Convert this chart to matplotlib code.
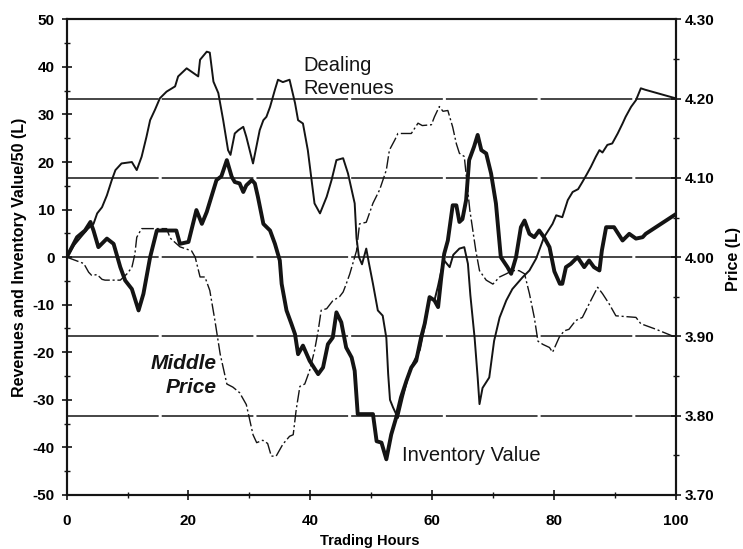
import matplotlib
matplotlib.use("Agg")
import matplotlib.pyplot as plt
from matplotlib.ticker import MultipleLocator, FormatStrFormatter

plt.rcParams['font.family'] = ['Liberation Sans', 'DejaVu Sans']

# Dealing revenues (left axis, thin solid line)
rev_hours = [0, 1.2, 2.5, 3.5, 4.4, 5.0, 5.8, 6.6, 7.4, 8.0, 9.0, 10.7, 11.5, 12.3, 13.1,
             13.7, 14.5, 15.3, 16.4, 17.8, 18.3, 19.7, 21.6, 21.9, 23.0, 23.5, 24.1, 24.9,
             25.7, 26.5, 26.9, 27.6, 28.2, 29.0, 29.5, 30.6, 31.7, 32.3, 32.8, 33.4, 34.2,
             34.7, 35.5, 36.6, 37.5, 38.0, 38.8, 39.6, 40.7, 41.6, 42.7, 43.5, 44.3, 45.4,
             46.2, 47.3, 47.6, 48.0, 48.5, 49.2, 49.6, 50.3, 51.1, 51.9, 52.5, 52.8, 53.1,
             53.6, 54.4, 55.2, 56.3, 57.0, 58.0, 58.8, 59.6, 60.4, 61.0, 61.5, 62.0, 62.9,
             63.5, 64.5, 65.3, 65.9, 66.3, 67.0, 67.5, 67.8, 68.3, 69.4, 70.2, 71.1, 72.2,
             73.2, 74.9, 76.0, 77.1, 78.4, 79.8, 80.4, 81.4, 82.3, 83.1, 84.0, 84.7, 85.5,
             86.1, 86.9, 87.5, 88.0, 88.8, 89.6, 90.5, 91.3, 91.8, 92.7, 93.5, 94.3, 95.0,
             100]
rev_values = [0, 2.5, 4.5, 6, 7, 9.2, 10.5, 13, 16.2, 18.3, 19.7, 20, 18.3, 21.1, 25.3,
              28.8, 31, 33.4, 34.8, 35.9, 38, 39.7, 38, 41.5, 43.2, 43, 36.9, 34.5,
              28.8, 22.5, 21.5, 26, 26.7, 27.4, 25.3, 19.7, 26.7, 28.8, 29.5, 31.6, 35.2,
              37.3, 36.8, 37.3, 32.4, 28.8, 28.1, 22.5, 11.3, 9.2, 12.7, 16.2, 20.4, 20.8,
              17.6, 11.3, 4, 0, -1.5, 1.8, -1, -5.6, -11.2, -12.3, -17, -24.6, -30,
              -31.6, -33.8, -29.5, -24, -22, -19.5, -14.5, -8.4, -9.1, -6, -3, -0.7, -2.1,
              0.5, 1.8, 2.1, -1.4, -8, -17, -25.3, -30.9, -27.5, -25.3, -17.6, -12.7, -9.1,
              -6.7, -4.2, -2.8, -0.3, 4.2, 7, 8.8, 8.4, 12, 13.7, 14.3, 15.8, 17.6,
              19, 21.1, 22.5, 22, 23.6, 23.9, 26, 28.1, 29.5, 31.6, 33, 35.5, 35.2,
              33.4]

# Inventory value / 50 (left axis, thick solid line)
inv_hours = [0, 1.7, 3.0, 3.9, 4.4, 5.2, 6.6, 7.7, 8.8, 9.6, 10.7, 11.8, 12.6, 13.1, 13.7,
             14.8, 18.0, 18.6, 20.0, 21.3, 22.2, 23.0, 24.6, 25.4, 26.3, 27.1, 27.6, 28.4,
             29.0, 29.5, 30.4, 30.9, 31.4, 32.3, 33.4, 34.2, 35.0, 35.3, 36.1, 36.9, 37.5,
             38.0, 38.8, 39.9, 41.3, 42.1, 42.9, 43.7, 44.3, 45.1, 45.9, 46.8, 47.3, 47.8,
             50.3, 50.9, 51.7, 52.5, 53.3, 54.1, 54.9, 55.8, 56.6, 57.4, 58.2, 58.8, 59.6,
             60.4, 61.0, 61.5, 62.0, 62.6, 63.4, 64.0, 64.5, 65.0, 65.6, 66.1, 66.9, 67.5,
             68.1, 68.9, 69.7, 70.5, 71.3, 72.4, 73.0, 73.8, 74.6, 75.2, 76.0, 76.8, 77.6,
             78.4, 79.3, 80.1, 81.0, 81.4, 82.0, 82.8, 83.9, 85.0, 85.8, 86.6, 87.5, 87.9,
             88.6, 89.9, 91.3, 92.4, 93.5, 94.6, 95.1, 100]
inv_values = [0, 4.2, 5.6, 7.4, 5.6, 2.1, 3.9, 2.8, -2.1, -4.9, -6.7, -11.2, -7.7, -4.2, 0,
              5.6, 5.6, 2.8, 3.2, 9.9, 7, 9.5, 16.2, 17, 20.4, 16.9, 15.8, 15.5,
              13.7, 15.1, 16.2, 15.5, 12.7, 7, 5.6, 2.8, -0.7, -5.6, -11.2, -14, -16.2,
              -20.4, -18.6, -21.8, -24.6, -23.2, -18.3, -16.9, -11.6, -13.7, -19, -21.1, -23.9, -33,
              -33, -38.7, -39, -42.5, -37.3, -33.8, -29.5, -26, -23.2, -21.8, -16.9, -14, -8.4,
              -9.1, -10.5, -4.5, 0.7, 3.5, 10.9, 10.9, 7.4, 8, 12, 20.4, 23.2, 25.7,
              22.5, 21.8, 17.6, 11.3, 0, -2.1, -3.5, 0, 6.3, 7.7, 4.9, 4.2, 5.6,
              4.2, 2.1, -3, -5.6, -5.6, -2.1, -1.4, 0, -2.1, -0.7, -2.1, -2.8, 1.4,
              6.3, 6.3, 3.5, 4.9, 3.9, 4.2, 4.9, 9.0]

# Middle price (right axis, dash-dot line)
price_hours = [0, 1.4, 2.8, 3.6, 4.1, 5.0, 5.8, 6.3, 8.8, 9.9, 10.7, 11.2, 11.5, 12.3,
               16.4, 17.0, 18.6, 20.5, 21.1, 21.9, 22.7, 23.5, 24.3, 25.2, 26.3, 27.3,
               28.4, 29.5, 30.6, 31.2, 32.2, 33.0, 33.6, 34.4, 35.5, 36.6, 37.2, 37.7,
               38.3, 39.1, 39.9, 40.7, 41.3, 41.8, 42.7, 43.7, 44.8, 45.4, 45.9, 46.5,
               47.6, 48.1, 49.2, 50.3, 51.4, 52.5, 53.0, 53.9, 54.4, 56.6, 57.7, 58.4,
               59.9, 60.4, 61.2, 61.8, 62.6, 63.4, 64.0, 64.5, 65.3, 66.2, 67.2, 67.8,
               68.9, 70.0, 71.1, 72.2, 73.2, 74.3, 75.2, 76.0, 76.8, 77.4, 78.2, 79.3,
               79.8, 80.9, 81.7, 82.5, 83.6, 84.7, 85.8, 87.2, 88.0, 89.1, 90.2, 93.5,
               94.3, 96.8, 100]
price_values = [4.000, 3.996, 3.992, 3.981, 3.977, 3.978, 3.972, 3.971, 3.971, 3.979, 3.987,
                4.004, 4.025, 4.036, 4.036, 4.024, 4.013, 4.008, 4.000, 3.975, 3.975, 3.958,
                3.922, 3.878, 3.840, 3.836, 3.829, 3.814, 3.776, 3.766, 3.769, 3.765, 3.749,
                3.749, 3.764, 3.774, 3.776, 3.808, 3.837, 3.840, 3.857, 3.882, 3.907, 3.933,
                3.935, 3.945, 3.950, 3.956, 3.966, 3.979, 4.008, 4.042, 4.044, 4.068, 4.085,
                4.110, 4.135, 4.148, 4.156, 4.156, 4.169, 4.166, 4.167, 4.177, 4.190, 4.184,
                4.185, 4.164, 4.143, 4.131, 4.127, 4.060, 4.008, 3.983, 3.971, 3.966, 3.975,
                3.979, 3.983, 3.983, 3.979, 3.954, 3.924, 3.894, 3.890, 3.886, 3.880, 3.899,
                3.907, 3.909, 3.920, 3.924, 3.941, 3.962, 3.954, 3.941, 3.926, 3.924, 3.916,
                3.909, 3.899]

price_gridlines = [3.80, 3.90, 4.00, 4.10, 4.20]

ink = '#141414'

fig = plt.figure(figsize=(7.43, 5.49), dpi=100)
ax = fig.add_axes([0.0898, 0.0984, 0.8194, 0.8664])
ax2 = ax.twinx()

ax.set_xlim(0, 100)
ax.set_ylim(-50, 50)
ax2.set_ylim(3.70, 4.30)

for g in price_gridlines:
    ax2.axhline(g, color=ink, lw=1.1, ls=(0, (60, 2)), zorder=1)

ax.plot(rev_hours, rev_values, color=ink, lw=1.4, zorder=3)
ax.plot(inv_hours, inv_values, color=ink, lw=2.8, zorder=4)
ax2.plot(price_hours, price_values, color=ink, lw=1.0, ls=(0, (9, 2, 1.5, 2)), zorder=3)

ax.xaxis.set_major_locator(MultipleLocator(20))
ax.xaxis.set_minor_locator(MultipleLocator(10))
ax.yaxis.set_major_locator(MultipleLocator(10))
ax.yaxis.set_minor_locator(MultipleLocator(5))
ax.yaxis.set_major_formatter(FormatStrFormatter('%d'))
ax2.yaxis.set_major_locator(MultipleLocator(0.1))
ax2.yaxis.set_minor_locator(MultipleLocator(0.05))
ax2.yaxis.set_major_formatter(FormatStrFormatter('%.2f'))

for a in (ax, ax2):
    for s in a.spines.values():
        s.set_linewidth(1.5)
        s.set_color(ink)

ax.tick_params(axis='both', which='major', direction='inout', length=7, width=1.2, color=ink,
               labelsize=11)
ax.tick_params(axis='both', which='minor', direction='inout', length=4, width=1.0, color=ink)
ax.tick_params(axis='y', which='major', pad=5)
ax.tick_params(axis='x', which='major', pad=10)
ax2.tick_params(axis='y', which='major', direction='inout', length=7, width=1.2, color=ink,
                labelsize=11, pad=3)
ax2.tick_params(axis='y', which='minor', direction='inout', length=4, width=1.0, color=ink)

for lab in ax.get_xticklabels() + ax.get_yticklabels() + ax2.get_yticklabels():
    lab.set_fontweight('bold')

ax.set_xlabel('Trading Hours', fontsize=10.5, fontweight='bold', va='center')
ax.xaxis.set_label_coords(0.497, -0.096)
ax.set_ylabel('Revenues and Inventory Value/50 (L)', fontsize=11.5, fontweight='bold',
              va='center', ha='center')
ax.yaxis.set_label_coords(-0.078, 0.5)
ax2.set_ylabel('Price (L)', fontsize=11.5, fontweight='bold', rotation=90,
               va='center', ha='center')
ax2.yaxis.set_label_coords(1.095, 0.497)

ax.text(38.8, 40.2, 'Dealing', fontsize=14.5, ha='left', va='center', color=ink, zorder=5)
ax.text(38.8, 35.5, 'Revenues', fontsize=14.5, ha='left', va='center', color=ink, zorder=5)
ax.text(55.0, -41.8, 'Inventory Value', fontsize=14.5, ha='left', va='center', color=ink, zorder=5)
ax.text(24.6, -22.4, 'Middle', fontsize=15, fontweight='bold', fontstyle='italic',
        ha='right', va='center', color=ink, zorder=5)
ax.text(24.6, -27.5, 'Price', fontsize=15, fontweight='bold', fontstyle='italic',
        ha='right', va='center', color=ink, zorder=5)

fig.savefig('out.png', dpi=100)
